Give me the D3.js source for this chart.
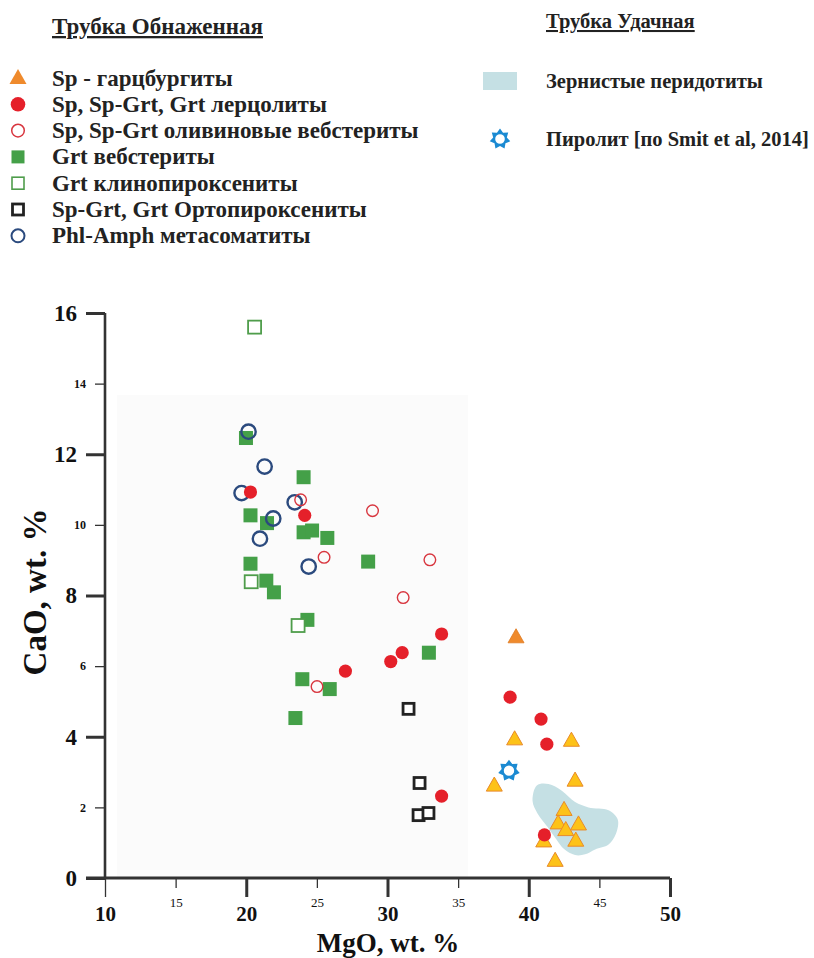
<!DOCTYPE html>
<html>
<head>
<meta charset="utf-8">
<script src="https://cdn.jsdelivr.net/npm/d3@7"></script>
<style>
  html, body { margin: 0; padding: 0; background: #fff; }
  svg text { font-family: "Liberation Serif", "Times New Roman", serif; }
</style>
</head>
<body>
<svg id="chart" width="814" height="958"></svg>
<script>
// MgO (wt.%), CaO (wt.%) for each rock group
const harzburgitesSp = [[39.1, 6.82]];
const harzburgitesYellow = [
  [39.0, 3.93], [43.02, 3.89], [37.56, 2.62], [43.28, 2.76], [42.5, 1.93],
  [42.08, 1.55], [42.62, 1.36], [43.52, 1.52], [43.33, 1.06], [41.06, 1.04], [41.87, 0.49]
];
const lherzolites = [
  [20.3, 10.93], [24.14, 10.27], [33.83, 6.91], [31.04, 6.38], [30.23, 6.13],
  [27.02, 5.86], [33.83, 2.32], [38.68, 5.12], [40.87, 4.5], [41.28, 3.79], [41.11, 1.22]
];
const olivineWebsterites = [
  [23.85, 10.71], [28.94, 10.4], [25.51, 9.08], [33.0, 9.01], [31.11, 7.94], [25.01, 5.42]
];
const grtWebsterites = [
  [19.98, 12.46], [24.06, 11.35], [20.3, 10.27], [21.47, 10.05], [24.06, 9.79],
  [24.66, 9.84], [25.74, 9.63], [28.63, 8.96], [20.3, 8.9], [21.42, 8.42],
  [21.96, 8.09], [24.33, 7.31], [32.93, 6.38], [23.97, 5.63], [25.91, 5.35], [23.48, 4.53]
];
const grtClinopyroxenites = [[20.59, 15.6], [20.35, 8.39], [23.67, 7.15]];
const orthopyroxenites = [[31.49, 4.79], [32.27, 2.69], [32.2, 1.78], [32.9, 1.84]];
const metasomatites = [
  [20.16, 12.64], [21.3, 11.65], [19.67, 10.9], [23.43, 10.64],
  [21.91, 10.18], [20.97, 9.61], [24.42, 8.82]
];
const pyrolite = [[38.6, 3.04]];
// outline of the granular peridotite field (Udachnaya)
const granularField = [
  [40.57, 2.62], [41.40, 2.66], [42.34, 2.47], [43.28, 2.15], [44.23, 2.0],
  [45.65, 1.92], [46.3, 1.66], [46.18, 1.26], [45.65, 0.95], [44.70, 0.81],
  [43.99, 0.67], [43.28, 0.65], [42.5, 0.82], [41.95, 1.1], [41.35, 1.44],
  [40.62, 1.83], [40.27, 2.18]
];

const xMajorTicks = [10, 20, 30, 40, 50];
const xMinorTicks = [15, 25, 35, 45];
const yMajorTicks = [0, 4, 8, 12, 16];
const yMinorTicks = [2, 6, 10, 14];

const legendLeftTitle = "Трубка Обнаженная";
const legendLeft = [
  "Sp - гарцбургиты",
  "Sp, Sp-Grt, Grt лерцолиты",
  "Sp, Sp-Grt оливиновые вебстериты",
  "Grt вебстериты",
  "Grt клинопироксениты",
  "Sp-Grt, Grt Ортопироксениты",
  "Phl-Amph метасоматиты"
];
const legendRightTitle = "Трубка Удачная";
const legendRight = ["Зернистые перидотиты", "Пиролит [по Smit et al, 2014]"];

const C = {
  orange: "#ef8a2c",
  yellow: "#fdc218",
  triStroke: "#e88a2a",
  red: "#e5202a",
  redOpen: "#d8363f",
  green: "#44a048",
  greenOpen: "#4f9d4b",
  black: "#222",
  blue: "#2b4a7e",
  star: "#1b8ad2",
  field: "#c5e0e4"
};

const svg = d3.select("#chart");
const x = d3.scaleLinear().domain([10, 50]).range([105, 670]);
const y = d3.scaleLinear().domain([0, 16]).range([878, 313]);

// faint panel behind the data
svg.append("rect")
  .attr("x", x(10.85)).attr("y", y(13.68))
  .attr("width", x(35.7) - x(10.85)).attr("height", y(0) - y(13.68))
  .attr("fill", "#fbfbfb");

// ---- axes ----
const axisG = svg.append("g");
// x axis: minor ticks
axisG.append("g").attr("transform", `translate(0,${y(0)})`)
  .call(d3.axisBottom(x).tickValues(xMinorTicks).tickSize(10).tickFormat(d3.format("d")))
  .call(g => g.select(".domain").remove())
  .call(g => g.selectAll(".tick line").attr("stroke", "#333").attr("stroke-width", 1.3))
  .call(g => g.selectAll(".tick text").attr("y", 20).attr("font-size", 13)
    .attr("fill", "#111").attr("font-family", "Liberation Serif"));
// x axis: major ticks
axisG.append("g").attr("transform", `translate(0,${y(0)})`)
  .call(d3.axisBottom(x).tickValues(xMajorTicks).tickSize(19).tickFormat(d3.format("d")))
  .call(g => g.select(".domain").remove())
  .call(g => g.selectAll(".tick line").attr("stroke", "#333")
    .attr("stroke-width", d => d === 10 ? 1.3 : 3))
  .call(g => g.selectAll(".tick text").attr("y", 28).attr("font-size", 21)
    .attr("font-weight", "bold").attr("fill", "#111").attr("font-family", "Liberation Serif"));
// y axis: minor ticks
axisG.append("g").attr("transform", `translate(${x(10)},0)`)
  .call(d3.axisLeft(y).tickValues(yMinorTicks).tickSize(10).tickFormat(d3.format("d")))
  .call(g => g.select(".domain").remove())
  .call(g => g.selectAll(".tick line").attr("stroke", "#333").attr("stroke-width", 1.3))
  .call(g => g.selectAll(".tick text").attr("x", -19).attr("font-size", 12)
    .attr("font-weight", "bold").attr("fill", "#111").attr("font-family", "Liberation Serif"));
// y axis: major ticks
axisG.append("g").attr("transform", `translate(${x(10)},0)`)
  .call(d3.axisLeft(y).tickValues(yMajorTicks).tickSize(19).tickFormat(d3.format("d")))
  .call(g => g.select(".domain").remove())
  .call(g => g.selectAll(".tick line").attr("stroke", "#333").attr("stroke-width", 3))
  .call(g => g.selectAll(".tick text").attr("x", -28).attr("font-size", 23)
    .attr("font-weight", "bold").attr("fill", "#111").attr("font-family", "Liberation Serif"));
// axis lines
axisG.append("line").attr("x1", x(10)).attr("x2", x(10)).attr("y1", y(0)).attr("y2", y(16))
  .attr("stroke", "#333").attr("stroke-width", 2.6);
axisG.append("line").attr("x1", x(10) - 19).attr("x2", x(50)).attr("y1", y(0)).attr("y2", y(0))
  .attr("stroke", "#333").attr("stroke-width", 3);

// axis titles
svg.append("text").attr("x", 388).attr("y", 952).attr("text-anchor", "middle")
  .attr("font-size", 27).attr("font-weight", "bold").attr("fill", "#111").text("MgO, wt. %");
svg.append("text").attr("transform", `translate(46,${y(8.1)}) rotate(-90)`)
  .attr("text-anchor", "middle").attr("font-size", 33).attr("font-weight", "bold")
  .attr("fill", "#111").text("CaO, wt. %");

// ---- marker shapes ----
function triPath(s) {
  const h = s * 0.88;
  return `M0,${-h * 0.6}L${s / 2},${h * 0.4}L${-s / 2},${h * 0.4}Z`;
}
function starPath(rOut, rIn, rHole, n) {
  let p = "";
  for (let i = 0; i < 2 * n; i++) {
    const r = i % 2 === 0 ? rOut : rIn;
    const a = -Math.PI / 2 + i * Math.PI / n;
    p += (i === 0 ? "M" : "L") + (r * Math.cos(a)).toFixed(2) + "," + (r * Math.sin(a)).toFixed(2);
  }
  p += "Z";
  p += `M${rHole},0A${rHole},${rHole} 0 1,0 ${-rHole},0A${rHole},${rHole} 0 1,0 ${rHole},0Z`;
  return p;
}

const plot = svg.append("g");

// granular peridotite field
plot.append("path")
  .datum(granularField)
  .attr("d", d3.line().x(d => x(d[0])).y(d => y(d[1])).curve(d3.curveCatmullRomClosed.alpha(0.5)))
  .attr("fill", C.field).attr("stroke", "none");

function drawPoints(data, draw) {
  const g = plot.append("g");
  g.selectAll("g").data(data).join("g")
    .attr("transform", d => `translate(${x(d[0])},${y(d[1])})`)
    .each(function () { draw(d3.select(this)); });
}

// triangles
drawPoints(harzburgitesYellow, s => s.append("path").attr("d", triPath(16))
  .attr("fill", C.yellow).attr("stroke", C.triStroke).attr("stroke-width", 1));
drawPoints(harzburgitesSp, s => s.append("path").attr("d", triPath(16))
  .attr("fill", C.orange).attr("stroke", "#e07a20").attr("stroke-width", 0.8));
// garnet websterites
drawPoints(grtWebsterites, s => s.append("rect").attr("x", -7).attr("y", -7)
  .attr("width", 14).attr("height", 14).attr("fill", C.green));
// garnet clinopyroxenites
drawPoints(grtClinopyroxenites, s => s.append("rect").attr("x", -6.5).attr("y", -6.5)
  .attr("width", 13).attr("height", 13).attr("fill", "#fff")
  .attr("stroke", C.greenOpen).attr("stroke-width", 1.8));
// metasomatites
drawPoints(metasomatites, s => s.append("circle").attr("r", 7.2)
  .attr("fill", "none").attr("stroke", C.blue).attr("stroke-width", 2.4));
// olivine websterites
drawPoints(olivineWebsterites, s => s.append("circle").attr("r", 5.8)
  .attr("fill", "none").attr("stroke", C.redOpen).attr("stroke-width", 1.4));
// lherzolites
drawPoints(lherzolites, s => s.append("circle").attr("r", 6.6).attr("fill", C.red));
// orthopyroxenites
drawPoints(orthopyroxenites, s => s.append("rect").attr("x", -5.5).attr("y", -5.5)
  .attr("width", 11).attr("height", 11).attr("fill", "#fff")
  .attr("stroke", C.black).attr("stroke-width", 2.8));
// pyrolite
drawPoints(pyrolite, s => s.append("path").attr("d", starPath(11, 7.5, 5.2, 7))
  .attr("fill", C.star).attr("fill-rule", "evenodd"));

// ---- legend ----
const leg = svg.append("g");
const textX = 52, markX = 18;
const rowY = i => 78 + i * 26.3;

leg.append("text").attr("x", textX).attr("y", 34).attr("font-size", 23)
  .attr("font-weight", "bold").attr("fill", "#222")
  .attr("text-decoration", "underline").text(legendLeftTitle);

const legMarkers = [
  s => s.append("path").attr("d", triPath(17)).attr("fill", C.orange),
  s => s.append("circle").attr("r", 7.3).attr("fill", C.red),
  s => s.append("circle").attr("r", 6.3).attr("fill", "none").attr("stroke", C.redOpen).attr("stroke-width", 1.5),
  s => s.append("rect").attr("x", -6.5).attr("y", -6.5).attr("width", 13).attr("height", 13).attr("fill", C.green),
  s => s.append("rect").attr("x", -6).attr("y", -6).attr("width", 12).attr("height", 12).attr("fill", "none").attr("stroke", C.greenOpen).attr("stroke-width", 1.6),
  s => s.append("rect").attr("x", -5.5).attr("y", -5.5).attr("width", 11).attr("height", 11).attr("fill", "none").attr("stroke", C.black).attr("stroke-width", 2.8),
  s => s.append("circle").attr("r", 6.5).attr("fill", "none").attr("stroke", C.blue).attr("stroke-width", 2)
];

legendLeft.forEach((label, i) => {
  const g = leg.append("g").attr("transform", `translate(0,${rowY(i)})`);
  legMarkers[i](g.append("g").attr("transform", `translate(${markX},0)`));
  g.append("text").attr("x", textX).attr("y", 7.5).attr("font-size", 23)
    .attr("font-weight", "bold").attr("fill", "#222").text(label);
});

leg.append("text").attr("x", 546).attr("y", 28).attr("font-size", 20.5)
  .attr("font-weight", "bold").attr("fill", "#222")
  .attr("text-decoration", "underline").text(legendRightTitle);

leg.append("rect").attr("x", 483).attr("y", 72).attr("width", 34).attr("height", 18)
  .attr("fill", C.field);
leg.append("text").attr("x", 546).attr("y", 88).attr("font-size", 20.5)
  .attr("font-weight", "bold").attr("fill", "#222").text(legendRight[0]);
leg.append("path").attr("transform", "translate(500,139)")
  .attr("d", starPath(10.5, 7, 4.8, 7)).attr("fill", C.star).attr("fill-rule", "evenodd");
leg.append("text").attr("x", 546).attr("y", 146).attr("font-size", 20.5)
  .attr("font-weight", "bold").attr("fill", "#222").text(legendRight[1]);
</script>
</body>
</html>
